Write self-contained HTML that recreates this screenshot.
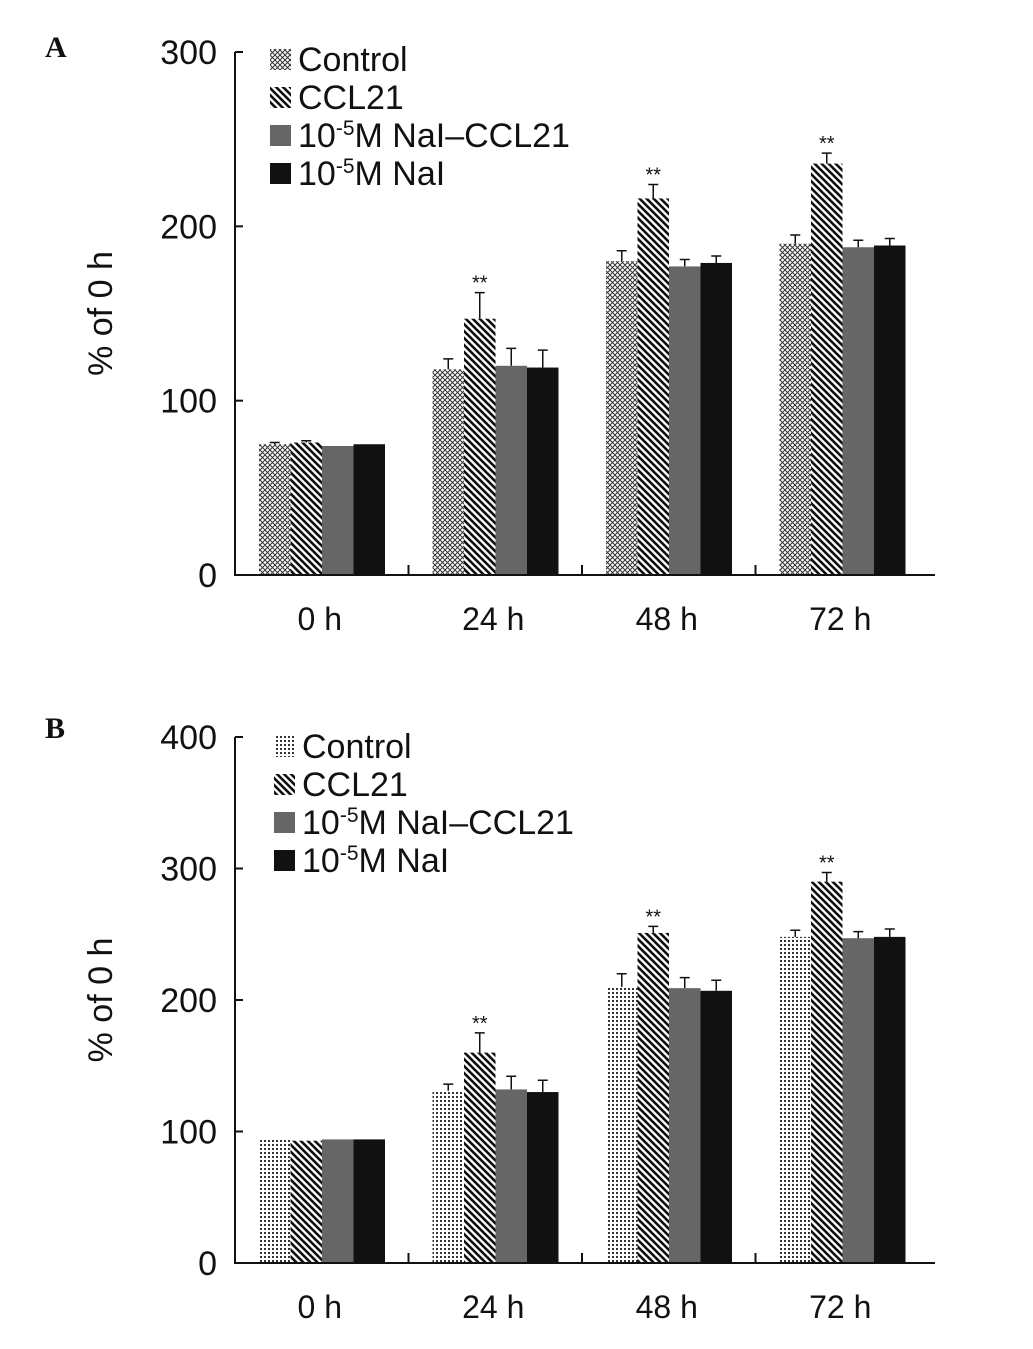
<!DOCTYPE html>
<html><head><meta charset="utf-8"><style>
body{margin:0;background:#fff}
svg{display:block}
text{font-family:"Liberation Sans",Arial,sans-serif;fill:#111}
text.panel{font-family:"Liberation Serif",serif;font-weight:bold}
</style></head><body>
<svg id="fig" width="1033" height="1349" xmlns="http://www.w3.org/2000/svg">
<defs>
<pattern id="pCross" width="5" height="5" patternUnits="userSpaceOnUse"><rect width="5" height="5" fill="#fff"/><path d="M0,0L5,5M5,0L0,5" stroke="#333" stroke-width="1"/></pattern>
<pattern id="pDots" width="4" height="4" patternUnits="userSpaceOnUse"><rect width="4" height="4" fill="#fff"/><rect width="2" height="2" fill="#333"/></pattern>
<pattern id="pDiag" width="7" height="7" patternUnits="userSpaceOnUse"><rect width="7" height="7" fill="#fff"/><path d="M-2,-2L9,9M-2,5L2,9M5,-2L9,2" stroke="#111" stroke-width="2.6"/></pattern>
</defs>
</svg>
<script>
const categories=["0 h","24 h","48 h","72 h"];
const seriesNames=["Control","CCL21","10-5M NaI–CCL21","10-5M NaI"];
const aValues=[[75,118,180,190],[76,147,216,236],[74,120,177,188],[75,119,179,189]];
const aErrors=[[1,6,6,5],[1,15,8,6],[0,10,4,4],[0,10,4,4]];
const aTicks=[0,100,200,300];
const bValues=[[94,131,210,248],[93,160,251,290],[94,132,209,247],[94,130,207,248]];
const bErrors=[[0,5,10,5],[0,15,5,7],[0,10,8,5],[0,9,8,6]];
const bTicks=[0,100,200,300,400];
const sig=[[false,true,true,true],[false,true,true,true]];
const NS="http://www.w3.org/2000/svg";
const svg=document.getElementById('fig');
function el(t,a,p){const e=document.createElementNS(NS,t);for(const k in a)e.setAttribute(k,a[k]);(p||svg).appendChild(e);return e;}
function chart(cfg){
  const g=el('g',{});
  
  
  const x0=235,x1=935,y0=cfg.y0,yTop=cfg.yTop,max=cfg.ticks[cfg.ticks.length-1];
  const ys=v=>y0-(v/max)*(y0-yTop);
  const cw=173.5;
  const fills=[cfg.ctrl,'url(#pDiag)','#666','#111'];
  for(let s=0;s<4;s++)for(let c=0;c<categories.length;c++){
    const v=cfg.vals[s][c],e=cfg.errs[s][c];
    const bx=x0+c*cw+24+s*31.5;
    const r=el('rect',{x:bx,y:ys(v),width:31.5,height:y0-ys(v),fill:fills[s]},g);
    
    
    if(e>0){const cx=bx+15.75;
      const l=el('path',{d:`M${cx},${ys(v)}V${ys(v+e)}M${cx-5},${ys(v+e)}H${cx+5}`,stroke:'#111','stroke-width':1.5,fill:'none'},g);
      
      }
    if(s===1&&cfg.sig[c]){const t=el('text',{x:bx+15.75,y:ys(v+e)-3,'font-size':20,'text-anchor':'middle'},g);t.textContent='**';
      
      }
  }
  const ax=el('path',{d:`M${x0},${yTop}V${y0}H${x1}`,stroke:'#111','stroke-width':2,fill:'none'},g);
  
  
  for(const t of cfg.ticks){const y=ys(t);
    el('path',{d:`M${x0},${y}H${x0+8}`,stroke:'#111','stroke-width':2},g);
    const tx=el('text',{x:x0-18,y:y+12,'font-size':34,'text-anchor':'end'},g);tx.textContent=t;
    
    }
  for(let c=1;c<categories.length;c++)el('path',{d:`M${x0+c*cw},${y0}V${y0-10}`,stroke:'#111','stroke-width':2},g);
  categories.forEach((n,c)=>{const t=el('text',{x:x0+c*cw+cw/2-2,y:y0+55,'font-size':32,'text-anchor':'middle'},g);t.textContent=n;
    
    });
  const yt=el('text',{x:0,y:0,'font-size':34,'text-anchor':'middle',transform:`translate(112,${(y0+yTop)/2}) rotate(-90)`},g);yt.textContent='% of 0 h';
  
  
  const pl=el('text',{x:45,y:cfg.labelY,'font-size':30,class:'panel'},g);pl.textContent=cfg.label;
  
  
  seriesNames.forEach((n,s)=>{const ly=cfg.legY+s*38;
    const lg=el('g',{},g);
    
    
    el('rect',{x:cfg.legX,y:ly-22,width:21,height:21,fill:fills[s]},lg);
    const t=el('text',{x:cfg.legX+28,y:ly,'font-size':34},lg);
    if(n.startsWith('10-5')){t.textContent='10';const sp=el('tspan',{dy:-12,'font-size':21},t);sp.textContent='-5';const sp2=el('tspan',{dy:12},t);sp2.textContent=n.slice(4);}
    else t.textContent=n;});
}
chart({name:'chart-a',y0:575,yTop:52,ticks:aTicks,vals:aValues,errs:aErrors,sig:sig[0],ctrl:'url(#pCross)',label:'A',labelY:57,legX:270,legY:71});
chart({name:'chart-b',y0:1263,yTop:737,ticks:bTicks,vals:bValues,errs:bErrors,sig:sig[1],ctrl:'url(#pDots)',label:'B',labelY:738,legX:274,legY:758});
</script>
</body></html>
